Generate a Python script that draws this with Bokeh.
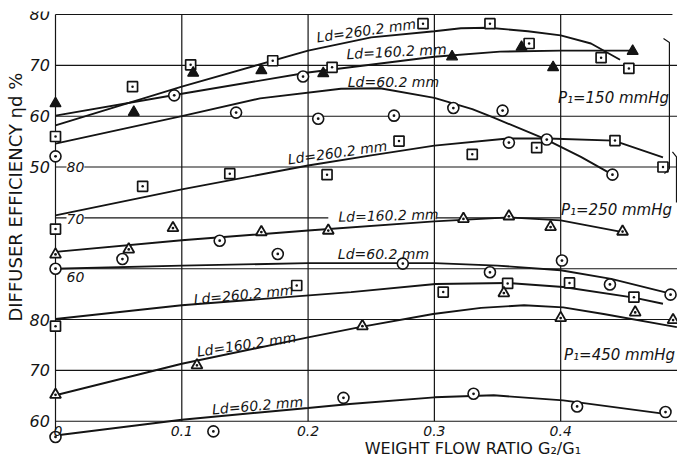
import math
from bokeh.plotting import figure
from bokeh.models import Range1d, Label
from bokeh.embed import file_html
from bokeh.resources import INLINE

# ---------------- data (x = G2/G1, y = diffuser efficiency %) ----------------
# p1 = 150 mmHg (set A, top scale 50..80)
a260_x = [0.0, 0.061, 0.107, 0.172, 0.219, 0.291, 0.344, 0.375, 0.432, 0.454]
a260_y = [56.0, 65.8, 70.1, 70.9, 69.6, 78.2, 78.2, 74.3, 71.5, 69.4]
a160_x = [0.0, 0.062, 0.109, 0.163, 0.212, 0.314, 0.369, 0.394, 0.457]
a160_y = [62.5, 60.8, 68.5, 69.0, 68.4, 71.7, 73.6, 69.6, 72.8]
a60_x = [0.0, 0.094, 0.143, 0.196, 0.208, 0.268, 0.315, 0.354, 0.359, 0.389, 0.441]
a60_y = [52.1, 64.1, 60.7, 67.8, 59.5, 60.1, 61.6, 61.1, 54.8, 55.4, 48.5]

a260_cx = [0.0, 0.1, 0.2, 0.25, 0.3, 0.321, 0.343, 0.374, 0.4, 0.424, 0.447]
a260_cy = [58.2, 65.8, 72.9, 75.5, 76.7, 77.3, 77.4, 76.7, 75.9, 74.3, 71.1]
a160_cx = [0.0, 0.1, 0.2, 0.3, 0.352, 0.4, 0.457]
a160_cy = [60.1, 64.4, 68.6, 71.7, 72.7, 72.9, 72.9]
a60_cx = [0.0, 0.1, 0.162, 0.226, 0.257, 0.3, 0.33, 0.347, 0.387, 0.416, 0.441]
a60_cy = [54.6, 60.0, 63.5, 65.4, 65.5, 63.6, 61.4, 59.7, 55.6, 52.0, 48.5]

# p1 = 250 mmHg (set B, middle scale 60..80)
b260_x = [0.0, 0.069, 0.138, 0.215, 0.272, 0.330, 0.381, 0.443, 0.481]
b260_y = [67.8, 76.2, 78.7, 78.5, 85.1, 82.5, 83.8, 85.2, 80.0]
b160_x = [0.0, 0.058, 0.093, 0.163, 0.216, 0.323, 0.359, 0.392, 0.449]
b160_y = [62.8, 63.8, 68.0, 67.2, 67.5, 69.8, 70.3, 68.2, 67.3]
b60_x = [0.0, 0.053, 0.130, 0.176, 0.275, 0.344, 0.401, 0.439, 0.487]
b60_y = [60.0, 61.9, 65.5, 62.9, 61.0, 59.3, 61.6, 56.9, 54.9]

b260_cx = [0.0, 0.1, 0.2, 0.25, 0.3, 0.358, 0.39, 0.442, 0.481]
b260_cy = [70.5, 75.6, 80.3, 82.3, 84.2, 85.6, 85.6, 85.2, 81.9]
b160_cx = [0.0, 0.1, 0.2, 0.3, 0.359, 0.4, 0.447]
b160_cy = [63.3, 65.6, 67.5, 69.3, 70.1, 69.5, 67.3]
b60_cx = [0.0, 0.1, 0.2, 0.3, 0.35, 0.4, 0.44, 0.487]
b60_cy = [60.0, 60.6, 61.1, 61.1, 60.6, 59.7, 58.0, 55.1]

# p1 = 450 mmHg (set C, bottom scale 60..80)
c260_x = [0.0, 0.191, 0.307, 0.358, 0.407, 0.458]
c260_y = [78.7, 86.7, 85.4, 87.1, 87.2, 84.4]
c160_x = [0.0, 0.112, 0.243, 0.355, 0.400, 0.459, 0.489]
c160_y = [65.2, 71.0, 78.7, 85.2, 80.3, 81.4, 79.9]
c60_x = [0.0, 0.125, 0.228, 0.331, 0.413, 0.483]
c60_y = [56.9, 58.0, 64.6, 65.4, 62.9, 61.8]

c260_cx = [0.0, 0.1, 0.234, 0.301, 0.358, 0.402, 0.458, 0.481]
c260_cy = [80.1, 82.8, 85.4, 87.0, 87.2, 86.4, 84.3, 83.1]
c160_cx = [0.0, 0.1, 0.2, 0.241, 0.299, 0.337, 0.371, 0.402, 0.434, 0.492]
c160_cy = [65.1, 71.3, 76.5, 78.5, 81.1, 82.3, 82.8, 82.4, 81.1, 78.5]
c60_cx = [0.0, 0.1, 0.2, 0.233, 0.3, 0.347, 0.402, 0.481]
c60_cy = [57.2, 60.3, 62.6, 63.4, 64.7, 65.1, 64.1, 61.5]

x_ticks = [0.0, 0.1, 0.2, 0.3, 0.4]
x_tick_labels = ["0", "0.1", "0.2", "0.3", "0.4"]
# band offsets: stacked scale, u = value/10 - offset
OFF_A, OFF_B, OFF_C = 0, 3, 6
left_tick_u = [8, 7, 6, 5, 2, 1, 0]
left_tick_labels = ["80", "70", "60", "50", "80", "70", "60"]
inner_tick_u = [5, 4, 3]
inner_tick_labels = ["80", "70", "60"]


def U(vals, off):
    return [v / 10.0 - off for v in vals]


FONT = "DejaVu Sans"
INK = "#141414"

p = figure(width=677, height=462, output_backend="svg", toolbar_location=None,
           x_range=Range1d(-0.04355, 0.4925), y_range=Range1d(-0.812, 8.059),
           x_axis_location=None, y_axis_location=None,
           min_border_left=0, min_border_right=0, min_border_top=11, min_border_bottom=0)
p.xgrid.visible = False
p.ygrid.visible = False
p.outline_line_color = None
p.background_fill_color = "white"
p.border_fill_color = "white"

# grid lines (stacked scales)
p.segment(x0=x_ticks, y0=[-0.18, 0, 0, 0, 0], x1=x_ticks, y1=[8] * 5,
          line_color=INK, line_width=1.2)
h_u = [0, 1, 2, 3, 4, 4, 5, 6, 7, 8]
h_x0 = [0, 0, 0, 0, 0, 0.302, 0, 0, 0, 0]
h_x1 = [0.4925, 0.4925, 0.4925, 0.4925, 0.216, 0.4, 0.4925, 0.4925, 0.4925, 0.4885]
p.segment(x0=h_x0, y0=h_u, x1=h_x1, y1=h_u, line_color=INK, line_width=1.1)

# curves
for cx, cy, off in [(a260_cx, a260_cy, OFF_A), (a160_cx, a160_cy, OFF_A), (a60_cx, a60_cy, OFF_A),
                    (b260_cx, b260_cy, OFF_B), (b160_cx, b160_cy, OFF_B), (b60_cx, b60_cy, OFF_B),
                    (c260_cx, c260_cy, OFF_C), (c160_cx, c160_cy, OFF_C), (c60_cx, c60_cy, OFF_C)]:
    p.line(cx, U(cy, off), line_color=INK, line_width=1.9)

# markers
MS = 10
for xs, ys, off in [(a260_x, a260_y, OFF_A), (b260_x, b260_y, OFF_B), (c260_x, c260_y, OFF_C)]:
    p.scatter(xs, U(ys, off), marker="square_dot", size=MS, line_color=INK, line_width=1.7,
              fill_color="white")
for xs, ys, off in [(a60_x, a60_y, OFF_A), (b60_x, b60_y, OFF_B), (c60_x, c60_y, OFF_C)]:
    p.scatter(xs, U(ys, off), marker="circle_dot", size=MS + 1, line_color=INK, line_width=1.6,
              fill_color="white")
p.scatter(a160_x, U(a160_y, OFF_A), marker="triangle", size=MS + 1, line_color=INK,
          line_width=1.2, fill_color=INK)
for xs, ys, off in [(b160_x, b160_y, OFF_B), (c160_x, c160_y, OFF_C)]:
    p.scatter(xs, U(ys, off), marker="triangle_dot", size=MS + 1, line_color=INK, line_width=1.8,
              fill_color="white")

# bracket for the 150 mmHg group
p.line([0.4814, 0.4861, 0.4861, 0.4822], [7.53, 7.45, 4.97, 4.87], line_color=INK, line_width=1.2)
p.line([0.4885, 0.4917, 0.4917], [5.3, 5.2, 4.3], line_color=INK, line_width=1.2)


def lab(x, y, text, size, angle=0.0, align="center", style="italic", bg=None):
    p.add_layout(Label(x=x, y=y, text=text, text_font=FONT, text_font_size=f"{size}px",
                       text_font_style=style, angle=math.radians(angle), text_align=align,
                       text_baseline="middle", text_color=INK, background_fill_color=bg))


# axis tick labels
for u, t in zip(left_tick_u, left_tick_labels):
    lab(-0.0045, u, t, 16, align="right")
for u, t, dy in zip(inner_tick_u, inner_tick_labels, [0.0, -0.03, -0.17]):
    lab(0.0087, u + dy, t, 14, align="left", bg="white" if u != 3 else None)
for x, t in zip(x_ticks, x_tick_labels):
    lab(x + (0.002 if x == 0 else 0.0), -0.2, t, 14)

# axis titles
lab(0.3325, -0.537, "WEIGHT FLOW RATIO  G\u2082/G\u2081", 16, style="normal")
lab(-0.0317, 4.52, "DIFFUSER  EFFICIENCY  \u03b7d %", 18, angle=90, style="normal")

# curve labels
lab(0.246, 7.685, "Ld=260.2 mm", 14, angle=8)
lab(0.270, 7.27, "Ld=160.2 mm", 14, angle=3)
lab(0.2676, 6.68, "Ld=60.2 mm", 14)
lab(0.4418, 6.36, "P\u2081=150 mmHg", 15)

lab(0.2233, 5.285, "Ld=260.2 mm", 14, angle=8)
lab(0.2637, 4.046, "Ld=160.2 mm", 14, angle=1.5)
lab(0.2597, 3.28, "Ld=60.2 mm", 14)
lab(0.4442, 4.16, "P\u2081=250 mmHg", 15)

lab(0.1489, 2.49, "Ld=260.2 mm", 14, angle=5.5)
lab(0.1512, 1.51, "Ld=160.2 mm", 14, angle=8.5)
lab(0.160, 0.31, "Ld=60.2 mm", 14, angle=5)
lab(0.4466, 1.31, "P\u2081=450 mmHg", 15)

open("out.html", "w").write(file_html(p, INLINE))
